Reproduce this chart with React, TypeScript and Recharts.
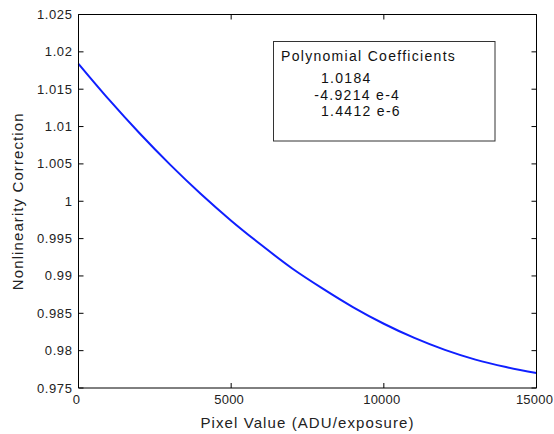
import React from 'react';
import { LineChart, Line, XAxis, YAxis, Label } from 'recharts';

// values
const pixelValues = [0, 1000, 2000, 3000, 4000, 5000, 6000, 7000, 8000, 9000, 10000, 11000, 12000, 13000, 14000, 15000];
const correction = [1.0184, 1.0136, 1.0091, 1.0049, 1.0010, 0.9974, 0.9941, 0.9910, 0.9883, 0.9858, 0.9836, 0.9817, 0.9801, 0.9788, 0.9778, 0.9770];

const xTicks = [0, 5000, 10000, 15000];
const yTicks = [0.975, 0.98, 0.985, 0.99, 0.995, 1, 1.005, 1.01, 1.015, 1.02, 1.025];

const coefficients = ['1.0184', '-4.9214 e-4', '1.4412 e-6'];

const data = pixelValues.map((x, i) => ({ x, y: correction[i] }));

const FONT = '"Liberation Sans", Arial, Helvetica, sans-serif';
const TICK_LEN = 5;

const LeftTick = (props: any) => {
  const { x, y, payload } = props;
  return (
    <g>
      <line x1={x} x2={x + TICK_LEN} y1={y} y2={y} stroke="#000" />
      <text x={x - 6} y={y + 4.5} textAnchor="end" fontSize={13} letterSpacing={0.6} fill="#222" fontFamily={FONT}>
        {String(payload.value)}
      </text>
    </g>
  );
};

const RightTick = (props: any) => {
  const { x, y } = props;
  return <line x1={x} x2={x - TICK_LEN} y1={y} y2={y} stroke="#000" />;
};

const BottomTick = (props: any) => {
  const { x, y, payload } = props;
  return (
    <g>
      <line x1={x} x2={x} y1={y} y2={y - TICK_LEN} stroke="#000" />
      <text x={x - 2} y={y + 16} textAnchor="middle" fontSize={13} letterSpacing={0.2} fill="#222" fontFamily={FONT}>
        {String(payload.value)}
      </text>
    </g>
  );
};

const TopTick = (props: any) => {
  const { x, y } = props;
  return <line x1={x} x2={x} y1={y} y2={y + TICK_LEN} stroke="#000" />;
};

const YTitle = (props: any) => {
  const vb = props.viewBox;
  const cx = vb.x + 22.5;
  const cy = vb.y + vb.height / 2;
  return (
    <text x={cx} y={cy} transform={`rotate(-90 ${cx} ${cy})`} textAnchor="middle" fontSize={15} letterSpacing={1.1} fill="#222" fontFamily={FONT}>
      Nonlinearity Correction
    </text>
  );
};

export default function App() {
  return (
    <div style={{ position: 'absolute', left: 0, top: 0, width: 554, height: 434, background: '#fff' }}>
      <LineChart width={554} height={434} data={data} margin={{ top: 13.5, right: 16.5, bottom: 0, left: 0.5 }}>
        <XAxis
          dataKey="x"
          type="number"
          domain={[0, 15000]}
          ticks={xTicks}
          interval={0}
          height={46}
          tickSize={0}
          tickMargin={0}
          tick={<BottomTick />}
          axisLine={{ stroke: '#000' }}
        >
          <Label
            value="Pixel Value (ADU/exposure)"
            position="insideBottom"
            offset={6}
            fontSize={15}
            letterSpacing={1.1}
            fill="#222"
            fontFamily={FONT}
          />
        </XAxis>
        <XAxis
          xAxisId="top"
          dataKey="x"
          orientation="top"
          type="number"
          domain={[0, 15000]}
          ticks={xTicks}
          interval={0}
          height={1}
          tickSize={0}
          tickMargin={0}
          tick={<TopTick />}
          axisLine={{ stroke: '#000' }}
        />
        <YAxis
          type="number"
          domain={[0.975, 1.025]}
          ticks={yTicks}
          interval={0}
          width={78}
          tickSize={0}
          tickMargin={0}
          tick={<LeftTick />}
          axisLine={{ stroke: '#000' }}
        >
          <Label content={YTitle} />
        </YAxis>
        <YAxis
          yAxisId="right"
          orientation="right"
          type="number"
          domain={[0.975, 1.025]}
          ticks={yTicks}
          interval={0}
          width={1}
          tickSize={0}
          tickMargin={0}
          tick={<RightTick />}
          axisLine={{ stroke: '#000' }}
        />
        <Line
          type="monotone"
          dataKey="y"
          stroke="#0f1fff"
          strokeWidth={2}
          dot={false}
          isAnimationActive={false}
        />
        {/* invisible twin so the top/right frame axes get a domain */}
        <Line
          xAxisId="top"
          yAxisId="right"
          type="monotone"
          dataKey="y"
          stroke="none"
          dot={false}
          activeDot={false}
          legendType="none"
          isAnimationActive={false}
        />
      </LineChart>
      <svg width={554} height={434} style={{ position: 'absolute', left: 0, top: 0, pointerEvents: 'none' }}>
        <defs>
          <clipPath id="coefClip">
            <rect x={274} y={42} width={183} height={98} />
          </clipPath>
        </defs>
        <rect x={273.5} y={41.5} width={221.5} height={99.5} fill="#fff" stroke="#333" />
        <g fontFamily={FONT} fontSize={14} letterSpacing={1.3} fill="#111">
          <text x={281} y={60.7} clipPath="url(#coefClip)">Polynomial Coefficients</text>
          <text x={321} y={83.3}>{coefficients[0]}</text>
          <text x={314.3} y={100}>{coefficients[1]}</text>
          <text x={321} y={116}>{coefficients[2]}</text>
        </g>
      </svg>
    </div>
  );
}
